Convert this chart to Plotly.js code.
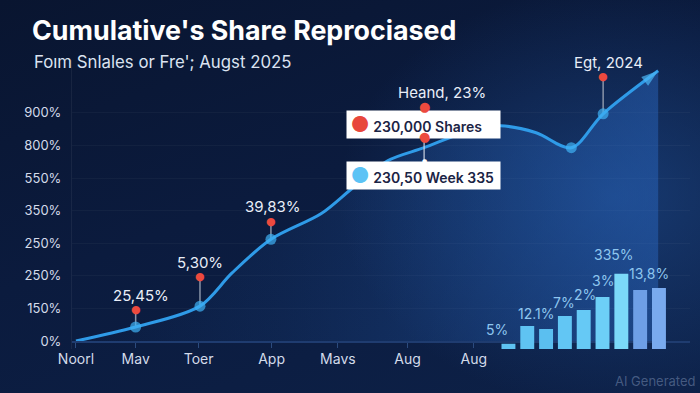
<!DOCTYPE html>
<html>
<head>
<meta charset="utf-8">
<script src="https://cdn.plot.ly/plotly-3.0.1.min.js"></script>
<style>
html,body{margin:0;padding:0;width:700px;height:393px;overflow:hidden;}
body{background:
 radial-gradient(ellipse 55% 75% at 88% 50%, rgba(32,80,150,0.55), rgba(32,80,150,0) 72%),
 linear-gradient(160deg,#091530 0%,#0b1b3e 45%,#0d2148 100%);}
#chart{width:700px;height:393px;}
</style>
</head>
<body>
<div id="chart"></div>
<script>
// ---------- data ----------
const xTickVals  = [0, 9, 18.5, 29.5, 39.5, 50, 60];
const xTickText  = ['Noorl', 'Mav', 'Toer', 'App', 'Mavs', 'Aug', 'Aug'];
const yTickVals  = [0, 1, 2, 3, 4, 5, 6, 7];
const yTickText  = ['0%', '150%', '250%', '250%', '350%', '550%', '800%', '900%'];

const lineX = [0, 9, 18.7, 23.5, 29.4, 37, 41.8, 47, 52.5, 59.3, 64, 69.4, 74.7, 79.5, 87.8];
const lineY = [0, 0.43, 1.07, 2.08, 3.12, 3.91, 4.71, 5.53, 5.93, 6.45, 6.6, 6.39, 5.93, 6.97, 8.29];
const markedPoints = [0, 1, 2, 4, 12, 13];

const calloutIdx    = [1, 2, 4, 13];
const calloutLabels = ['25,45%', '5,30%', '39,83%', 'Egt, 2024'];

const focusIdx   = 8;
const focusLabel = 'Heand, 23%';
const focusBoxes = ['230,000 Shares', '230,50 Week 335'];

const barValues = [1.8, 8.0, 6.9, 11.4, 13.5, 18.0, 26.0, 20.4, 21.1];
const barLabels = ['5%', '12.1%', '7%', '2%', '3%', '335%', '13,8%'];
const barLabelIdx = [0, 1, 3, 4, 5, 6, 7];

// ---------- layout constants ----------
const FONT = 'Inter, "Noto Sans", sans-serif';
const yRange = [-0.245, 8.62];
const stemPx  = [16, 29, 17, 36];
const labelPx = [31, 44, 33, 51];
const labelDx = [5, 0, 2, 5];
const barLabelDx = [-11, 9, -1, 1, 0, -7, 9];
const barLabelDy = [14, 12, 14, 15, 16, 19, 17];
const barColors = ['#5ec2f1','#5fc3f2','#5bbff0','#62c6f4','#66c9f5','#6dcff7','#7bd9f9','#6e9fe6','#79aaee'];

const sizes = lineX.map((_, i) => markedPoints.includes(i) ? 11 : 0);
sizes[lineX.length - 1] = 18;
const symbols = lineX.map((_, i) => i === lineX.length - 1 ? 'arrow' : 'circle');
const mcolors = lineX.map((_, i) => i === 0 ? '#24508f' : '#3fb1f3');
mcolors[lineX.length - 1] = '#4cb6f5';

const traces = [
  {
    x: lineX, y: lineY, type: 'scatter', mode: 'lines+markers',
    line: {color: '#2f9be8', width: 3, shape: 'spline', smoothing: 0.9},
    fill: 'tozeroy',
    fillgradient: {type: 'horizontal', colorscale: [[0, 'rgba(35,95,180,0)'], [0.35, 'rgba(35,95,180,0.12)'], [1, 'rgba(45,110,205,0.42)']]},
    marker: {size: sizes, symbol: symbols, color: mcolors, angleref: 'previous', line: {width: 0}},
    cliponaxis: false, hoverinfo: 'skip'
  },
  {
    x: barValues.map((_, i) => i), y: barValues, type: 'bar',
    xaxis: 'x2', yaxis: 'y2',
    marker: {color: barColors, line: {width: 0}}, hoverinfo: 'skip'
  }
];

const shapes = calloutIdx.map((idx, k) => ({
  type: 'line', xref: 'x', yref: 'y', layer: 'below',
  x0: lineX[idx], x1: lineX[idx], ysizemode: 'pixel', yanchor: lineY[idx], y0: 0, y1: stemPx[k],
  line: {color: '#8994a8', width: 1.5}
}));
shapes.push({
  type: 'line', xref: 'x', yref: 'y', layer: 'above',
  x0: lineX[focusIdx], x1: lineX[focusIdx], ysizemode: 'pixel', yanchor: lineY[focusIdx], y0: -14, y1: 8,
  line: {color: '#c9d2e0', width: 1.2}
});

const annotations = [];
const dot = (x, y, dy, color, size) => ({
  x: x, y: y, xref: 'x', yref: 'y', yshift: dy, showarrow: false,
  text: '●', font: {family: 'DejaVu Sans', size: size, color: color}
});
calloutIdx.forEach((idx, k) => {
  annotations.push({
    x: lineX[idx], y: lineY[idx], xref: 'x', yref: 'y', showarrow: false,
    xshift: labelDx[k], yshift: labelPx[k], text: calloutLabels[k],
    font: {family: FONT, size: 15, color: '#e9eef8'}
  });
  annotations.push(dot(lineX[idx], lineY[idx], stemPx[k] + 1, '#ec4a3e', 11));
});
// focus callout
const fx = lineX[focusIdx], fy = lineY[focusIdx];
annotations.push({x: fx, y: fy, xref: 'x', yref: 'y', showarrow: false, xshift: 18, yshift: 55,
  text: focusLabel, font: {family: FONT, size: 15, color: '#e9eef8'}});
const boxDy = [23, -28];
const boxDot = ['#e8473c', '#5cc3f5'];
focusBoxes.forEach((t, k) => {
  annotations.push({x: fx, y: fy, xref: 'x', yref: 'y', showarrow: false, xshift: -1, yshift: boxDy[k],
    width: 153, height: 27, align: 'left', bgcolor: '#ffffff', borderpad: 0,
    text: '&nbsp;<span style="color:' + boxDot[k] + ';font-size:21px">●</span> ' + t,
    font: {family: FONT, size: 14, color: '#1b2445', weight: 600}});
});
annotations.push(dot(fx, fy, 41, '#ec4a3e', 13));
annotations.push(dot(fx, fy, 11, '#ec4a3e', 13));
annotations.push(dot(fx, fy, -13, '#ffffff', 6));

// bar labels
barLabelIdx.forEach((bi, k) => {
  annotations.push({x: bi, y: barValues[bi], xref: 'x2', yref: 'y2', showarrow: false,
    xshift: barLabelDx[k], yshift: barLabelDy[k], text: barLabels[k],
    font: {family: FONT, size: 14, color: '#8ec6ef'}});
});

// subtitle + watermark
annotations.push({xref: 'paper', yref: 'paper', x: (32 - 72) / 618, y: (349 - 62) / 289, xanchor: 'left', yanchor: 'middle',
  showarrow: false, text: 'Foım Snlales or Fre\'; Augst 2025', font: {family: FONT, size: 16.8, color: '#dbe3f1'}});
annotations.push({xref: 'paper', yref: 'paper', x: (655 - 72) / 618, y: (349 - 381) / 289, xanchor: 'center', yanchor: 'middle',
  showarrow: false, text: 'AI Generated', font: {family: FONT, size: 13, color: 'rgba(140,160,195,0.45)'}});

const layout = {
  width: 700, height: 393,
  margin: {l: 72, r: 10, t: 60, b: 44},
  paper_bgcolor: 'rgba(0,0,0,0)', plot_bgcolor: 'rgba(0,0,0,0)',
  showlegend: false,
  font: {family: FONT, color: '#d3dbea'},
  title: {text: "Cumulative's Share Reprociased", x: 32 / 700, xanchor: 'left', xref: 'container',
          y: 1 - 31 / 393, yanchor: 'middle', yref: 'container',
          font: {family: FONT, size: 26.8, color: '#ffffff', weight: 700}},
  xaxis: {range: [-0.6, 92.6], tickvals: xTickVals, ticktext: xTickText, anchor: 'free',
          position: (0 - yRange[0]) / (yRange[1] - yRange[0]),
          showline: true, linecolor: '#1f3c70', linewidth: 1.5, ticks: 'outside', ticklen: 5,
          tickcolor: '#2c4b7e', showgrid: false, zeroline: false,
          tickfont: {family: FONT, size: 14, color: '#d3dbea'}, fixedrange: true},
  yaxis: {range: yRange, tickvals: yTickVals, ticktext: yTickText, showgrid: true,
          gridcolor: 'rgba(255,255,255,0.035)', zeroline: false, showline: true,
          linecolor: 'rgba(255,255,255,0.06)', ticks: '', ticklabelstandoff: 7,
          tickfont: {family: FONT, size: 13, color: '#d3dbea'}, fixedrange: true},
  xaxis2: {domain: [0.691, 0.965], range: [-0.5, 8.5], anchor: 'y2', visible: false},
  yaxis2: {domain: [0, 0.4], range: [0, 40], anchor: 'x2', visible: false},
  bargap: 0.26,
  shapes: shapes,
  annotations: annotations
};

Plotly.newPlot('chart', traces, layout, {displayModeBar: false, staticPlot: true});
</script>
</body>
</html>
